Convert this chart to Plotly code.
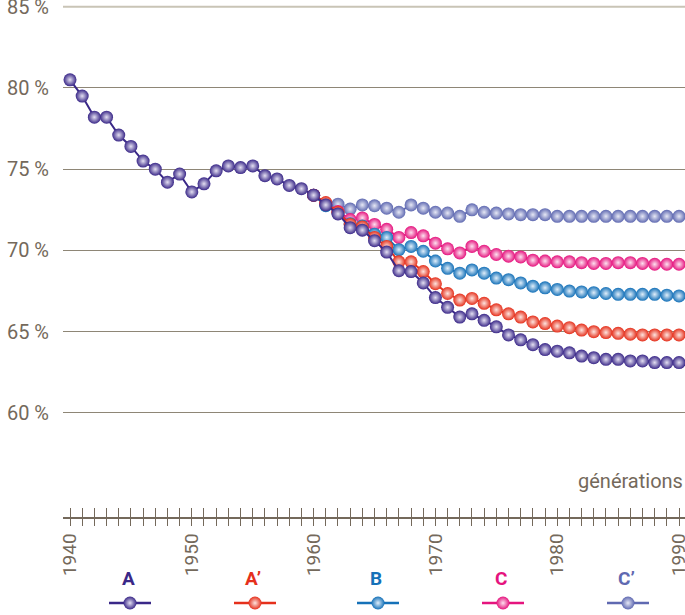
import plotly.graph_objects as go

# observed generations 1940-1960, then the five projections 1960-1990
years_obs = list(range(1940, 1961))
a_obs = [80.5, 79.5, 78.2, 78.2, 77.1, 76.4, 75.5, 75.0, 74.2, 74.7, 73.6,
         74.1, 74.9, 75.2, 75.1, 75.2, 74.6, 74.4, 74.0, 73.8, 73.4]

years_proj = list(range(1960, 1991))
a_proj = [73.4, 72.8, 72.25, 71.4, 71.25, 70.6, 69.9, 68.75, 68.7, 68.0, 67.1,
          66.5, 65.9, 66.1, 65.7, 65.3, 64.8, 64.5, 64.2, 63.9, 63.8,
          63.7, 63.5, 63.4, 63.3, 63.3, 63.2, 63.2, 63.1, 63.1, 63.1]
a2_proj = [73.4, 72.95, 72.35, 71.6, 71.45, 70.8, 70.25, 69.3, 69.3, 68.7, 67.95,
           67.35, 66.95, 67.05, 66.75, 66.35, 66.1, 65.9, 65.6, 65.5, 65.35,
           65.25, 65.1, 65.0, 64.95, 64.9, 64.85, 64.8, 64.8, 64.8, 64.8]
b_proj = [73.4, 72.75, 72.3, 71.65, 71.5, 71.0, 70.8, 70.05, 70.25, 69.95, 69.35,
          68.9, 68.6, 68.8, 68.6, 68.3, 68.2, 68.0, 67.8, 67.7, 67.6,
          67.5, 67.45, 67.4, 67.35, 67.3, 67.3, 67.3, 67.3, 67.25, 67.2]
c_proj = [73.4, 72.85, 72.4, 71.9, 72.0, 71.6, 71.3, 70.8, 71.1, 70.9, 70.45,
          70.1, 69.85, 70.25, 69.95, 69.75, 69.65, 69.6, 69.4, 69.35, 69.3,
          69.3, 69.25, 69.2, 69.2, 69.25, 69.25, 69.2, 69.15, 69.15, 69.15]
c2_proj = [73.4, 72.9, 72.85, 72.55, 72.8, 72.75, 72.6, 72.35, 72.8, 72.6, 72.35,
           72.3, 72.1, 72.5, 72.35, 72.3, 72.25, 72.2, 72.2, 72.2, 72.1,
           72.1, 72.1, 72.1, 72.1, 72.1, 72.1, 72.1, 72.1, 72.1, 72.1]

names = ["A", "A’", "B", "C", "C’"]
colors = {"A": "#3a2888", "A’": "#e5301c", "B": "#1571b8",
          "C": "#e5147e", "C’": "#5f69b1"}
# bead highlight (centre of the radial gradient)
glints = {"A": "#e4e0f2", "A’": "#fde4df", "B": "#e0eefa",
          "C": "#fde1ef", "C’": "#e6e8f5"}

y_ticks = [60, 65, 70, 75, 80, 85]
x_labels = {1940: "1940", 1950: "1950", 1960: "1960", 1970: "1970",
            1980: "1980", 1990: "1990"}

TXT = "#74695b"
FONT = "Roboto"


def bead_trace(x, y, name):
    return go.Scatter(
        x=x, y=y, mode="lines+markers",
        line=dict(color=colors[name], width=2),
        marker=dict(size=13, color=colors[name], line=dict(width=0),
                    gradient=dict(type="radial", color=glints[name])),
        hoverinfo="x+y", showlegend=False)


fig = go.Figure()
# back to front: C', C, B, A', A
fig.add_trace(bead_trace(years_proj, c2_proj, "C’"))
fig.add_trace(bead_trace(years_proj, c_proj, "C"))
fig.add_trace(bead_trace(years_proj, b_proj, "B"))
fig.add_trace(bead_trace(years_proj, a2_proj, "A’"))
fig.add_trace(bead_trace(years_obs + years_proj[1:], a_obs + a_proj[1:], "A"))

# legend drawn in its own little pixel-like axis under the chart
leg_x = [130, 255, 378, 503, 628]
for name, lx in zip(names, leg_x):
    c = colors[name]
    fig.add_trace(go.Scatter(x=[lx - 21, lx + 21], y=[12, 12], mode="lines",
                             line=dict(color=c, width=2.5), xaxis="x3", yaxis="y3",
                             hoverinfo="skip", showlegend=False))
    fig.add_trace(go.Scatter(x=[lx], y=[12], mode="markers", xaxis="x3", yaxis="y3",
                             marker=dict(size=13, color=c,
                                         gradient=dict(type="radial", color=glints[name])),
                             hoverinfo="skip", showlegend=False))
    fig.add_annotation(x=lx - 2, y=37, xref="x3", yref="y3", text=f"<b>{name}</b>",
                       showarrow=False, font=dict(family=FONT, size=19, color=c))

years_all = list(range(1940, 1991))
xrange = [1939.425, 1990.49]
fig.update_layout(
    width=685, height=615,
    margin=dict(l=63, r=0, t=0, b=0),
    paper_bgcolor="white", plot_bgcolor="white",
    font=dict(family=FONT, color=TXT),
    xaxis=dict(range=xrange, tickvals=years_all,
               ticktext=[x_labels.get(y, "") for y in years_all],
               tickangle=-90, ticks="outside", ticklen=7, tickwidth=1.2,
               tickcolor=TXT, showline=True, linecolor=TXT, linewidth=1.5,
               showgrid=False, zeroline=False, anchor="y", automargin=False,
               ticklabeloverflow="allow", tickfont=dict(size=19, color=TXT)),
    xaxis2=dict(range=xrange, overlaying="x", anchor="y", side="bottom",
                tickvals=years_all, showticklabels=False, ticks="inside",
                ticklen=9, tickwidth=1.2, tickcolor=TXT, showgrid=False,
                zeroline=False),
    yaxis=dict(domain=[98 / 615, 1], range=[53.6, 85.41], tickvals=y_ticks,
               ticktext=[f"{v} %" for v in y_ticks], automargin=False,
               showgrid=True, gridcolor="#8e8676", gridwidth=1.3,
               zeroline=False, showline=False, ticks="outside", ticklen=9,
               tickcolor="rgba(0,0,0,0)", ticklabeloverflow="allow",
               tickfont=dict(size=20, color=TXT)),
    xaxis3=dict(domain=[0, 1], range=[63, 685], visible=False, anchor="y3"),
    yaxis3=dict(domain=[0, 98 / 615], range=[0, 98], visible=False, anchor="x3"),
)
# paler top rule at 85 %
fig.add_shape(type="line", xref="paper", yref="y", x0=0, x1=1, y0=85, y1=85,
              line=dict(color="#c9c4b6", width=2))
fig.add_annotation(x=1, xref="paper", y=60, yref="y", yshift=-68,
                   text="générations", showarrow=False, xanchor="right",
                   font=dict(family=FONT, size=20, color=TXT))
fig.add_trace(go.Scatter(x=[1950], y=[60], xaxis="x2", yaxis="y",
                         mode="markers", marker=dict(opacity=0),
                         hoverinfo="skip", showlegend=False))

fig.write_html("out.html", config={"displayModeBar": False},
               post_script="document.body.style.margin='0';")
